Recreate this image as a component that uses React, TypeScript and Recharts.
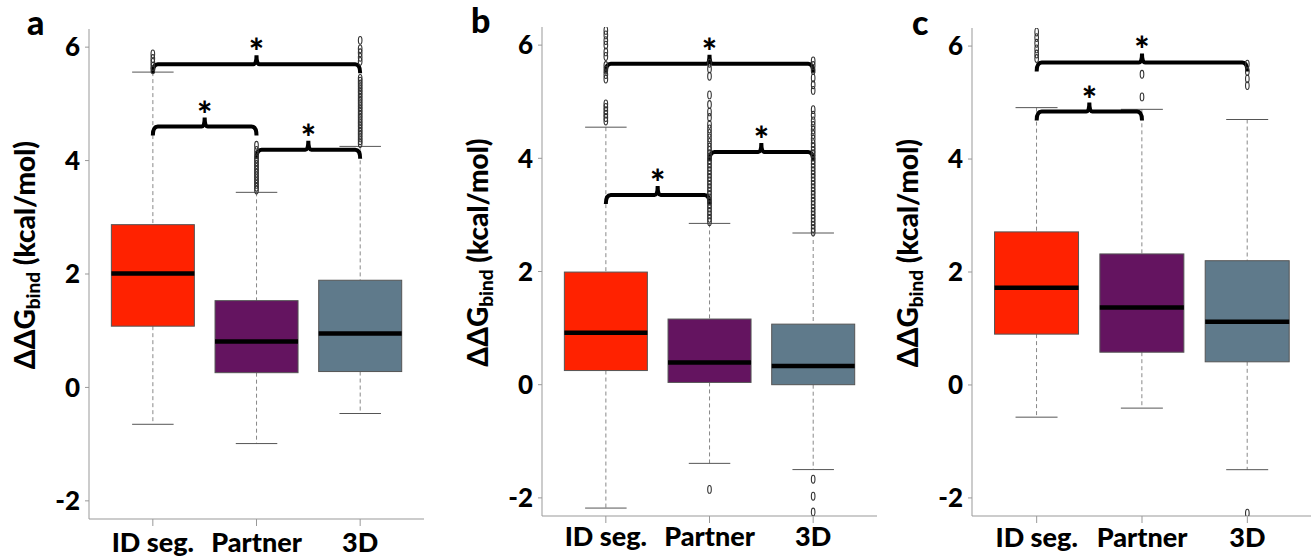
import React from 'react';
import { Bar, ComposedChart, ReferenceLine, Scatter, XAxis, YAxis } from 'recharts';

const FONT = 'Lato, "Open Sans", sans-serif';
const CATS = ['ID seg.', 'Partner', '3D'];
const FILLS = ['#ff2200', '#641460', '#5f7a8b'];
const Y_TICKS = [-2, 0, 2, 4, 6];

// panel a
const loA = [-0.65, -0.99, -0.46];
const q1A = [1.08, 0.26, 0.28];
const medA = [2.01, 0.81, 0.95];
const q3A = [2.87, 1.53, 1.89];
const hiA = [5.56, 3.44, 4.25];
const outIdA = [5.6, 5.66, 5.73, 5.8, 5.88];
const outPartnerA = [3.48, 3.53, 3.58, 3.63, 3.68, 3.73, 3.78, 3.83, 3.88, 3.93, 3.98, 4.03, 4.1, 4.18, 4.27];
const out3dA = [4.3, 4.35, 4.4, 4.45, 4.5, 4.55, 4.6, 4.65, 4.7, 4.75, 4.8, 4.85, 4.9, 4.95, 5.0, 5.05, 5.1, 5.15, 5.2, 5.25, 5.3, 5.35, 5.4, 5.45, 5.75, 5.82, 5.9, 5.97, 6.12];

// panel b
const loB = [-2.18, -1.39, -1.5];
const q1B = [0.25, 0.04, 0.0];
const medB = [0.92, 0.39, 0.33];
const q3B = [1.99, 1.16, 1.07];
const hiB = [4.55, 2.85, 2.68];
const outIdB = [4.66, 4.72, 4.78, 4.84, 4.9, 4.96, 5.4, 5.48, 5.56, 5.64, 5.8, 5.88, 6.0, 6.08, 6.18, 6.26];
const outPartnerB = [-1.85, 2.88, 2.94, 3.0, 3.06, 3.12, 3.18, 3.24, 3.3, 3.36, 3.42, 3.48, 3.54, 3.6, 3.66, 3.72, 3.78, 3.84, 3.9, 3.96, 4.02, 4.08, 4.14, 4.2, 4.28, 4.36, 4.44, 4.52, 4.6, 4.72, 4.82, 4.95, 5.12, 5.45, 5.58, 5.68];
const out3dB = [-2.25, -1.97, -1.67, 2.7, 2.76, 2.82, 2.88, 2.94, 3.0, 3.06, 3.12, 3.18, 3.24, 3.3, 3.36, 3.42, 3.48, 3.54, 3.6, 3.66, 3.72, 3.78, 3.84, 3.9, 3.96, 4.02, 4.08, 4.14, 4.2, 4.26, 4.34, 4.42, 4.5, 4.58, 4.66, 4.76, 4.86, 5.2, 5.3, 5.42, 5.55, 5.64, 5.72];

// panel c
const loC = [-0.57, -0.41, -1.5];
const q1C = [0.9, 0.58, 0.41];
const medC = [1.72, 1.37, 1.12];
const q3C = [2.71, 2.32, 2.2];
const hiC = [4.91, 4.88, 4.7];
const outIdC = [5.78, 5.86, 5.95, 6.05, 6.15, 6.25];
const outPartnerC = [5.1, 5.5];
const out3dC = [-2.27, 5.3, 5.42, 5.55, 5.68];

// significance brackets: [from, to, y]
const bracketsA: [string, string, number][] = [
  ['ID seg.', '3D', 5.7],
  ['ID seg.', 'Partner', 4.6],
  ['Partner', '3D', 4.19],
];
const bracketsB: [string, string, number][] = [
  ['ID seg.', '3D', 5.67],
  ['ID seg.', 'Partner', 3.35],
  ['Partner', '3D', 4.11],
];
const bracketsC: [string, string, number][] = [
  ['ID seg.', '3D', 5.71],
  ['ID seg.', 'Partner', 4.84],
];

function makeRows(lo: number[], q1: number[], med: number[], q3: number[], hi: number[]) {
  return CATS.map((name, i) => ({
    name,
    range: [lo[i], hi[i]],
    lo: lo[i],
    q1: q1[i],
    med: med[i],
    q3: q3[i],
    hi: hi[i],
  }));
}

function makeOutliers(lists: number[][]) {
  const pts: { name: string; v: number }[] = [];
  lists.forEach((l, i) => l.forEach((v) => pts.push({ name: CATS[i], v })));
  return pts;
}

function BoxShape(props: any) {
  const { x, y, width, height, payload, index } = props;
  const top = Math.min(y, y + height);
  const h = Math.abs(height);
  const { lo, hi, q1, q3, med } = payload;
  const yOf = (v: number) => top + ((hi - v) / (hi - lo)) * h;
  const cx = x + width / 2;
  const cap = width / 4;
  return (
    <g>
      <line x1={cx} x2={cx} y1={yOf(hi)} y2={yOf(q3)} stroke="#888" strokeDasharray="4 3" />
      <line x1={cx} x2={cx} y1={yOf(q1)} y2={yOf(lo)} stroke="#888" strokeDasharray="4 3" />
      <line x1={cx - cap} x2={cx + cap} y1={yOf(hi)} y2={yOf(hi)} stroke="#555" />
      <line x1={cx - cap} x2={cx + cap} y1={yOf(lo)} y2={yOf(lo)} stroke="#555" />
      <rect x={x} y={yOf(q3)} width={width} height={yOf(q1) - yOf(q3)} fill={FILLS[index]} stroke="#555" strokeWidth={1} />
      <line x1={x} x2={x + width} y1={yOf(med)} y2={yOf(med)} stroke="#000" strokeWidth={4.5} />
    </g>
  );
}

function Oval(props: any) {
  const { cx, cy } = props;
  if (cx == null || cy == null) return null;
  return <ellipse cx={cx} cy={cy} rx={1.8} ry={3.9} fill="none" stroke="#333" strokeWidth={1.1} />;
}

function Bracket(props: any) {
  const { x1, y1, x2 } = props;
  const y = y1;
  const xm = (x1 + x2) / 2;
  const d = `M${x1},${y + 9} Q${x1},${y} ${x1 + 5},${y} L${xm - 3},${y} Q${xm},${y} ${xm},${y - 9} Q${xm},${y} ${xm + 3},${y} L${x2 - 5},${y} Q${x2},${y} ${x2},${y + 9}`;
  return (
    <g>
      <path d={d} fill="none" stroke="#000" strokeWidth={4} />
      <text x={xm} y={y + 1} textAnchor="middle" fontSize={36} fontWeight={900} fontFamily={FONT} fill="#000">
        *
      </text>
    </g>
  );
}

function YTitle(props: any) {
  const { viewBox } = props;
  const cx = viewBox.x + 28;
  const cy = viewBox.y + viewBox.height / 2 - 19;
  return (
    <text
      x={cx}
      y={cy}
      transform={`rotate(-90, ${cx}, ${cy})`}
      textAnchor="middle"
      dominantBaseline="middle"
      fontFamily={FONT}
      fontWeight={900}
      fontSize={28}
      fill="#000"
    >
      ΔΔG
      <tspan fontSize={19} dy={7}>bind</tspan>
      <tspan dy={-7}> (kcal/mol)</tspan>
    </text>
  );
}

function Panel({
  rows,
  outliers,
  brackets,
  left,
  top,
  width,
  right,
  xHeight,
  tickGap,
}: {
  rows: any[];
  outliers: { name: string; v: number }[];
  brackets: [string, string, number][];
  left: number;
  top: number;
  width: number;
  right: number;
  xHeight: number;
  tickGap: number;
}) {
  return (
    <div style={{ position: 'absolute', left, top: 0 }}>
      <ComposedChart
        width={width}
        height={559}
        data={rows}
        margin={{ top, right, left: 0, bottom: 0 }}
        barCategoryGap="10%"
      >
        <XAxis
          dataKey="name"
          allowDuplicatedCategory={false}
          padding={{ left: 12, right: 12 }}
          height={xHeight}
          tickSize={7}
          tickMargin={tickGap}
          axisLine={{ stroke: '#999' }}
          tickLine={{ stroke: '#999' }}
          tick={{ fill: '#000', fontSize: 27, fontWeight: 900, fontFamily: FONT }}
          interval={0}
        />
        <XAxis
          xAxisId="top"
          orientation="top"
          dataKey="name"
          allowDuplicatedCategory={false}
          height={0}
          tick={false}
          tickLine={false}
          axisLine={{ stroke: '#999' }}
        />
        <YAxis
          type="number"
          domain={[-2.32, 6.32]}
          allowDataOverflow
          ticks={Y_TICKS}
          width={89}
          tickSize={4}
          tickMargin={5}
          axisLine={{ stroke: '#999' }}
          tickLine={{ stroke: '#999' }}
          tick={{ fill: '#000', fontSize: 26, fontWeight: 900, fontFamily: FONT }}
          label={<YTitle />}
        />
        <YAxis
          yAxisId="right"
          orientation="right"
          type="number"
          domain={[-2.32, 6.32]}
          width={0}
          tick={false}
          tickLine={false}
          axisLine={{ stroke: '#999' }}
        />
        <Bar dataKey="range" shape={<BoxShape />} isAnimationActive={false} />
        <Scatter data={outliers} dataKey="v" shape={<Oval />} isAnimationActive={false} />
        {brackets.map(([a, b, y], i) => (
          <ReferenceLine
            key={i}
            segment={[
              { x: a, y },
              { x: b, y },
            ]}
            ifOverflow="visible"
            shape={(p: any) => <Bracket {...p} />}
          />
        ))}
      </ComposedChart>
    </div>
  );
}

const letterStyle: React.CSSProperties = {
  position: 'absolute',
  fontFamily: FONT,
  fontWeight: 900,
  fontSize: 34,
  lineHeight: '34px',
  color: '#000',
};

export default function App() {
  const rowsA = makeRows(loA, q1A, medA, q3A, hiA);
  const rowsB = makeRows(loB, q1B, medB, q3B, hiB);
  const rowsC = makeRows(loC, q1C, medC, q3C, hiC);
  return (
    <div
      style={{
        position: 'absolute',
        left: 0,
        top: 0,
        width: 1311,
        height: 559,
        overflow: 'hidden',
        background: '#fff',
      }}
    >
      <Panel rows={rowsA} outliers={makeOutliers([outIdA, outPartnerA, out3dA])} brackets={bracketsA} left={0} top={29} width={430} right={6} xHeight={40} tickGap={7} />
      <Panel rows={rowsB} outliers={makeOutliers([outIdB, outPartnerB, out3dB])} brackets={bracketsB} left={453} top={27} width={430} right={6} xHeight={43} tickGap={4} />
      <Panel rows={rowsC} outliers={makeOutliers([outIdC, outPartnerC, out3dC])} brackets={bracketsC} left={883} top={28} width={430} right={1} xHeight={43} tickGap={5} />
      <span style={{ ...letterStyle, left: 27, top: 5 }}>a</span>
      <span style={{ ...letterStyle, left: 471, top: 3 }}>b</span>
      <span style={{ ...letterStyle, left: 912, top: 5 }}>c</span>
    </div>
  );
}
